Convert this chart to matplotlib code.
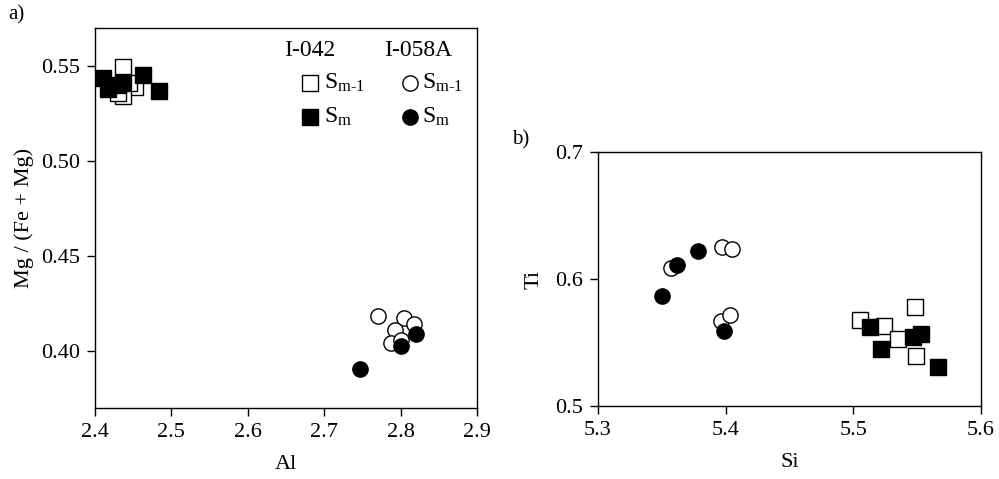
import matplotlib
matplotlib.use('Agg')
import matplotlib.pyplot as plt

plt.rcParams['font.family'] = 'Liberation Serif'
plt.rcParams['mathtext.fontset'] = 'custom'
plt.rcParams['mathtext.rm'] = 'Liberation Serif'
plt.rcParams['mathtext.it'] = 'Liberation Serif'

# panel a: Al vs Mg/(Fe+Mg)
a042_sm1_al = [2.437, 2.453, 2.436, 2.445, 2.43]
a042_sm1_mg = [0.5495, 0.539, 0.534, 0.541, 0.536]
a042_sm_al = [2.41, 2.417, 2.437, 2.463, 2.484, 2.43]
a042_sm_mg = [0.5437, 0.5378, 0.5415, 0.5452, 0.537, 0.540]
a058_sm1_al = [2.770, 2.805, 2.818, 2.792, 2.788, 2.800]
a058_sm1_mg = [0.4185, 0.4174, 0.4143, 0.411, 0.4042, 0.406]
a058_sm_al = [2.747, 2.801, 2.820]
a058_sm_mg = [0.3905, 0.4026, 0.409]

# panel b: Si vs Ti
b042_sm1_si = [5.505, 5.524, 5.535, 5.548, 5.549]
b042_sm1_ti = [0.568, 0.563, 0.553, 0.578, 0.539]
b042_sm_si = [5.513, 5.522, 5.547, 5.553, 5.566]
b042_sm_ti = [0.562, 0.545, 0.554, 0.557, 0.531]
b058_sm1_si = [5.357, 5.397, 5.405, 5.396, 5.403]
b058_sm1_ti = [0.609, 0.625, 0.624, 0.567, 0.572]
b058_sm_si = [5.350, 5.362, 5.378, 5.399]
b058_sm_ti = [0.587, 0.611, 0.622, 0.559]

fig = plt.figure(figsize=(9.99, 4.79), dpi=100)
axa = fig.add_axes([0.0951, 0.1482, 0.3824, 0.7933])
axb = fig.add_axes([0.5986, 0.1524, 0.3834, 0.5303])

ms_sq = 11
ms_ci = 11

def pts(ax, x, y, marker, filled):
    fc = 'black' if filled else 'white'
    ax.plot(x, y, linestyle='none', marker=marker, ms=ms_sq if marker == 's' else ms_ci,
            mfc=fc, mec='black', mew=1.0)

pts(axa, a042_sm1_al, a042_sm1_mg, 's', False)
pts(axa, a042_sm_al, a042_sm_mg, 's', True)
pts(axa, a058_sm1_al, a058_sm1_mg, 'o', False)
pts(axa, a058_sm_al, a058_sm_mg, 'o', True)

pts(axb, b042_sm1_si, b042_sm1_ti, 's', False)
pts(axb, b042_sm_si, b042_sm_ti, 's', True)
pts(axb, b058_sm1_si, b058_sm1_ti, 'o', False)
pts(axb, b058_sm_si, b058_sm_ti, 'o', True)

axa.set_xlim(2.4, 2.9)
axa.set_ylim(0.37, 0.57)
axa.set_xticks([2.4, 2.5, 2.6, 2.7, 2.8, 2.9])
axa.set_yticks([0.40, 0.45, 0.50, 0.55])
axa.set_yticklabels(['0.40', '0.45', '0.50', '0.55'])
axa.set_xlabel('Al', fontsize=16, labelpad=9)
axa.set_ylabel('Mg / (Fe + Mg)', fontsize=16, labelpad=5)

axb.set_xlim(5.3, 5.6)
axb.set_ylim(0.5, 0.7)
axb.set_xticks([5.3, 5.4, 5.5, 5.6])
axb.set_yticks([0.5, 0.6, 0.7])
axb.set_xlabel('Si', fontsize=16, labelpad=9)
axb.set_ylabel('Ti', fontsize=16, labelpad=8)

for ax in (axa, axb):
    ax.tick_params(direction='out', length=6, width=1, labelsize=16, pad=5)
    for s in ax.spines.values():
        s.set_linewidth(1.0)

# legend drawn by hand
t = axa.transAxes
axa.text(0.563, 0.942, 'I-042', transform=t, fontsize=17, ha='center', va='center')
axa.text(0.846, 0.942, 'I-058A', transform=t, fontsize=17, ha='center', va='center')
axa.plot([0.563], [0.855], transform=t, marker='s', ms=ms_sq, mfc='white', mec='black', mew=1)
axa.plot([0.563], [0.766], transform=t, marker='s', ms=ms_sq, mfc='black', mec='black', mew=1)
axa.plot([0.825], [0.855], transform=t, marker='o', ms=ms_ci, mfc='white', mec='black', mew=1)
axa.plot([0.825], [0.766], transform=t, marker='o', ms=ms_ci, mfc='black', mec='black', mew=1)
axa.text(0.600, 0.855, r'S$_{\mathrm{m\text{-}1}}$', transform=t, fontsize=17, va='center')
axa.text(0.600, 0.766, r'S$_{\mathrm{m}}$', transform=t, fontsize=17, va='center')
axa.text(0.857, 0.855, r'S$_{\mathrm{m\text{-}1}}$', transform=t, fontsize=17, va='center')
axa.text(0.857, 0.766, r'S$_{\mathrm{m}}$', transform=t, fontsize=17, va='center')

fig.text(0.008, 0.968, 'a)', fontsize=15, va='center')
fig.text(0.513, 0.708, 'b)', fontsize=15, va='center')

fig.savefig('out.png', dpi=100)
